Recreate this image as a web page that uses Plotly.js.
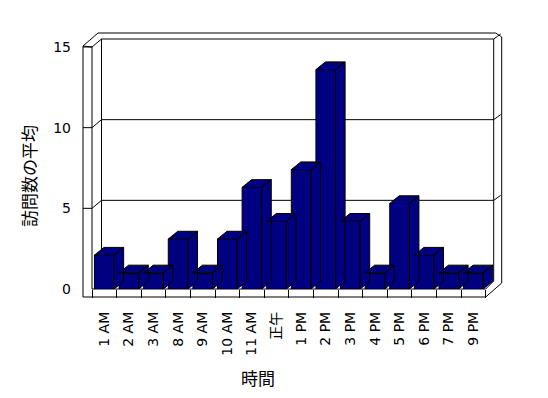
<!DOCTYPE html>
<html>
<head>
<meta charset="utf-8">
<script src="https://cdn.plot.ly/plotly-3.0.1.min.js"></script>
<style>html,body{margin:0;padding:0;background:#fff;}#chart{width:548px;height:398px;}</style>
</head>
<body>
<div id="chart"></div>
<script>
// ---- data ----
const categories = ["1 AM","2 AM","3 AM","8 AM","9 AM","10 AM","11 AM","正午","1 PM","2 PM","3 PM","4 PM","5 PM","6 PM","7 PM","9 PM"];
const visits = [2.1, 1.0, 1.0, 3.1, 1.0, 3.1, 6.3, 4.2, 7.4, 13.6, 4.2, 1.0, 5.3, 2.1, 1.0, 1.0];
const yTickVals = [0, 5, 10, 15];
const yTickText = ["0", "5", "10", "15"];
const xTitle = "時間";
const yTitle = "訪問数の平均";

// ---- geometry (pixels) ----
const W = 548, H = 398;
const n = categories.length;
const extra = 0.5;                          // room for the last bar's depth faces
const mL = 92, mR = 50, mT = 47, mB = 109;
const plotW = W - mL - mR, plotH = H - mT - mB;
const catPx = plotW / (n + extra);
const yMax = 15;
const depthX = 9.5, depthY = 7.7;          // oblique depth offset in px
const barW = 0.8;
const dxD = depthX / catPx;
const dyD = depthY / (plotH / yMax);

const FONT = "DejaVu Sans, Noto Sans CJK JP, sans-serif";
const CJK = "Noto Sans CJK JP, sans-serif";
const NAVY = "#000080";

// 3D faces (top and right side) built from data
const fx = [], fy = [];
visits.forEach((v, i) => {
  const l = i - barW / 2, r = i + barW / 2;
  fx.push(l, r, r + dxD, l + dxD, l, null);
  fy.push(v, v, v + dyD, v + dyD, v, null);
  fx.push(r, r + dxD, r + dxD, r, r, null);
  fy.push(0, dyD, v + dyD, v, 0, null);
});

const faces = {
  type: "scatter", mode: "lines", x: fx, y: fy, fill: "toself",
  fillcolor: NAVY, line: {color: "#000", width: 1}, hoverinfo: "skip",
  showlegend: false, connectgaps: false
};
const bars = {
  type: "bar", x: categories.map((c, i) => i), y: visits, width: barW,
  marker: {color: NAVY, line: {color: "#000", width: 1}},
  hoverinfo: "skip", showlegend: false
};

// frame helpers: pixel -> paper
const P = x => (x - mL) / plotW;
const Q = y => (H - mB - y) / plotH;
const shapes = [];
function seg(x0, y0, x1, y1) {
  shapes.push({type: "line", xref: "paper", yref: "paper", layer: "below",
    x0: P(x0), y0: Q(y0), x1: P(x1), y1: Q(y1), line: {color: "#000", width: 1}});
}
const base = H - mB;                 // 289
const right = mL + n * catPx;        // front right edge
const backL = mL + depthX, backR = right + 8, backB = base - 8, backT = mT - 8;
// left wall
seg(83, mT - 1, 83, base + 8);
seg(83, mT - 1, mL, mT);
seg(83, mT - 1, 98, 33);
seg(mL, mT, mL, base);
// outer back frame
seg(98, 33, backR + 2, 33);
seg(backR + 2, 33, backR + 8, 37);
seg(backR + 8, 37, backR + 8, backB + 2);
seg(backR + 8, backB + 2, right, base + 8);
// floor front strip
seg(83, base + 8, right, base + 8);
seg(mL, base, right, base);
// back wall
seg(backL, backT, backL, backB);
seg(backR, backT, backR, backB);
seg(backR, backB, right, base);
// y ticks on the front edge and gridlines on the back wall
yTickVals.filter(v => v > 0).forEach(v => {
  const yp = base - v * plotH / yMax;
  seg(83, yp, mL, yp);
  seg(mL, yp, backL, yp - 8);
  seg(backL, yp - 8, backR, yp - 8);
  seg(backR, yp - 8, backR + 7, yp - 13);
});

const minorVals = [];
for (let i = 0; i <= n; i++) minorVals.push(i - 0.5);

const layout = {
  width: W, height: H,
  margin: {l: mL, r: mR, t: mT, b: mB, pad: 0},
  paper_bgcolor: "#fff", plot_bgcolor: "rgba(0,0,0,0)",
  font: {family: FONT, size: 13, color: "#000"},
  showlegend: false,
  xaxis: {
    range: [-0.5, n - 0.5 + extra], tickmode: "array",
    tickvals: categories.map((c, i) => i), ticktext: categories,
    tickangle: -90, ticks: "", showgrid: false, zeroline: false,
    showline: false,
    ticklabelstandoff: 19,
    tickfont: {family: FONT, size: 14, color: "#000"},
    minor: {tickvals: minorVals, ticks: "outside", ticklen: 8, tickcolor: "#000", tickwidth: 1, showgrid: false},
    fixedrange: true
  },
  yaxis: {
    range: [0, yMax], tickmode: "array", tickvals: yTickVals, ticktext: yTickText,
    ticks: "", showgrid: false, zeroline: false, showline: false,
    ticklabelstandoff: 20,
    tickfont: {family: FONT, size: 14, color: "#000"},
    fixedrange: true
  },
  shapes: shapes,
  annotations: [
    {text: xTitle, xref: "paper", yref: "paper", x: P(258), y: Q(377),
     showarrow: false, xanchor: "center", yanchor: "middle",
     font: {family: CJK, size: 17, color: "#000"}},
    {text: yTitle, xref: "paper", yref: "paper", x: P(28), y: Q(176),
     showarrow: false, xanchor: "center", yanchor: "middle", textangle: -90,
     font: {family: CJK, size: 17, color: "#000"}}
  ]
};

Plotly.newPlot("chart", [faces, bars], layout, {staticPlot: true, displayModeBar: false});
</script>
</body>
</html>
